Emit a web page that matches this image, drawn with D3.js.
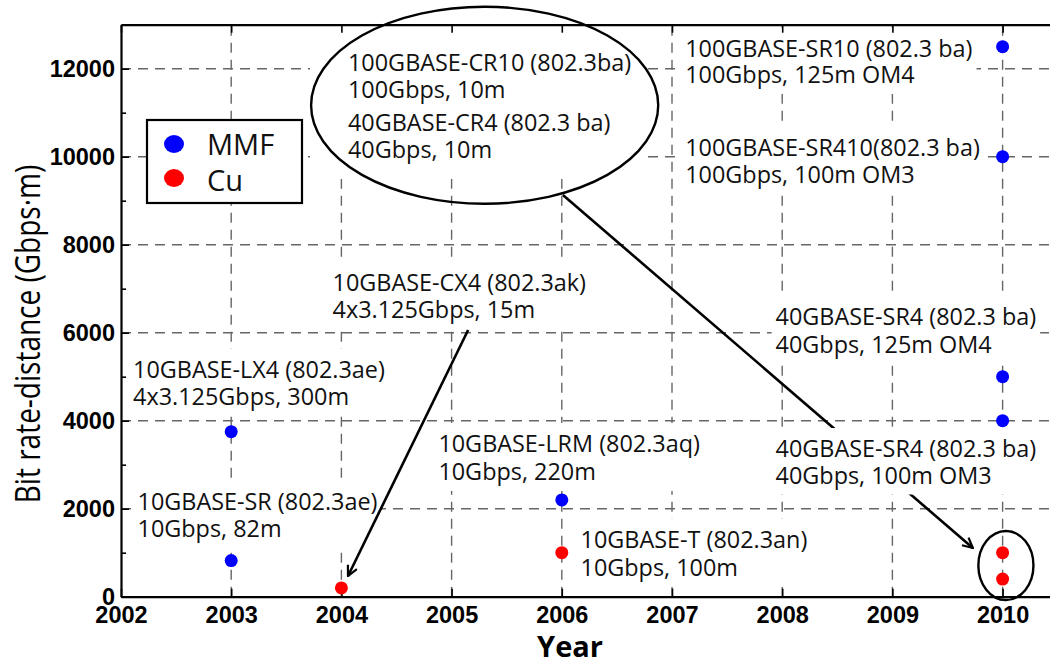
<!DOCTYPE html>
<html>
<head>
<meta charset="utf-8">
<script src="https://cdn.jsdelivr.net/npm/d3@7"></script>
<style>
  body { margin: 0; background: #fff; }
  svg { display: block; }
</style>
</head>
<body>
<svg id="chart" width="1050" height="664"></svg>
<script>
// ---------- data ----------
const yearTicks = [2002, 2003, 2004, 2005, 2006, 2007, 2008, 2009, 2010];
const valueTicks = [0, 2000, 4000, 6000, 8000, 10000, 12000];
const minorValueTicks = [1000, 3000, 5000, 7000, 9000, 11000];

const mmfYears  = [2003, 2003, 2006, 2010, 2010, 2010, 2010];
const mmfValues = [3750, 820, 2200, 12500, 10000, 5000, 4000];
const cuYears   = [2004, 2006, 2010, 2010];
const cuValues  = [200, 1000, 1000, 400];

const seriesNames = ["MMF", "Cu"];
const seriesColors = ["#0000ff", "#ff0000"];

// annotation text blocks: anchor (year, value) of first baseline
const labelLines = [
  ["100GBASE-CR10 (802.3ba)", "100Gbps, 10m", "40GBASE-CR4 (802.3 ba)", "40Gbps, 10m"],
  ["100GBASE-SR10 (802.3 ba)", "100Gbps, 125m OM4"],
  ["100GBASE-SR410(802.3 ba)", "100Gbps, 100m OM3"],
  ["40GBASE-SR4 (802.3 ba)", "40Gbps, 125m OM4"],
  ["40GBASE-SR4 (802.3 ba)", "40Gbps, 100m OM3"],
  ["10GBASE-CX4 (802.3ak)", "4x3.125Gbps, 15m"],
  ["10GBASE-LX4 (802.3ae)", "4x3.125Gbps, 300m"],
  ["10GBASE-SR (802.3ae)", "10Gbps, 82m"],
  ["10GBASE-LRM (802.3aq)", "10Gbps, 220m"],
  ["10GBASE-T (802.3an)", "10Gbps, 100m"]
];
const labelYears  = [2004.06, 2007.12, 2007.12, 2007.94, 2007.94, 2003.92, 2002.11, 2002.15, 2004.88, 2006.17];
const labelValues = [11950, 12270, 10020, 6175, 3175, 6950, 4970, 1970, 3290, 1107];

// arrows in data units (first: CX4 -> 2004 Cu point, second: ellipse -> 2010 Cu points)
const arrowFromYears  = [2005.15, 2006.01];
const arrowFromValues = [6061, 9130];
const arrowToYears    = [2004.06, 2009.73];
const arrowToValues   = [470, 1107];

// ellipses (center year, center value, half-width years, half-height value)
const ellipseYears  = [2005.30, 2010.03];
const ellipseValues = [11170, 709];
const ellipseRYears = [1.575, 0.25];
const ellipseRValues = [2239, 784];

// ---------- layout ----------
const svg = d3.select("#chart");
const x = d3.scaleLinear().domain([2002, 2010.5]).range([121, 1057.7]);
const y = d3.scaleLinear().domain([0, 13000]).range([596.7, 24.7]);
const x0 = x.range()[0], x1 = x.range()[1], y0 = y.range()[0], y1 = y.range()[1];

const textFont = "'Open Sans', 'Noto Sans', sans-serif";

// grid
const grid = svg.append("g").attr("stroke", "#666").attr("stroke-width", 1.4)
  .attr("stroke-dasharray", "10,7");
grid.selectAll("line.v").data(yearTicks.slice(1)).join("line")
  .attr("x1", d => x(d)).attr("x2", d => x(d)).attr("y1", y0).attr("y2", y1);
grid.selectAll("line.h").data(valueTicks.slice(1)).join("line")
  .attr("y1", d => y(d)).attr("y2", d => y(d)).attr("x1", x0).attr("x2", x1);

// arrow head
svg.append("defs").append("marker")
  .attr("id", "head").attr("viewBox", "0 0 12 12")
  .attr("refX", 11).attr("refY", 6)
  .attr("markerWidth", 12).attr("markerHeight", 12)
  .attr("markerUnits", "userSpaceOnUse")
  .attr("orient", "auto")
  .append("path").attr("d", "M1,1 L11,6 L1,11")
  .attr("fill", "none").attr("stroke", "#000").attr("stroke-width", 2.2);

function drawArrow(layer, i) {
  layer.append("line")
    .attr("x1", x(arrowFromYears[i]))
    .attr("y1", y(arrowFromValues[i]))
    .attr("x2", x(arrowToYears[i]))
    .attr("y2", y(arrowToValues[i]))
    .attr("stroke", "#000").attr("stroke-width", 2.6)
    .attr("marker-end", "url(#head)");
}

const arrowUnder = svg.append("g");
const boxLayer = svg.append("g");
const arrowOver = svg.append("g");
const ellLayer = svg.append("g");
const textLayer = svg.append("g");

drawArrow(arrowUnder, 1);  // partly hidden behind the lower 40GBASE-SR4 label
drawArrow(arrowOver, 0);

// annotation labels with white background
const lineGap = [[0, 27, 60, 87], [0, 26], [0, 27], [0, 28], [0, 26.5], [0, 27], [0, 27], [0, 27], [0, 28], [0, 28]];
const boxPad = [[38, 12, 20, 14], [4, 4, 4, 4], [4, 4, 4, 4], [4, 4, 4, 4], [4, 4, 4, 4], [4, 4, 4, 4], [4, 4, 4, 4], [3, 3, 3, 3], [4, 4, 4, 4], [4, 4, 4, 4]];
labelLines.forEach((lines, i) => {
  const rect = boxLayer.append("rect").attr("fill", "#fff");
  const t = textLayer.append("text")
    .attr("font-family", textFont)
    .attr("font-size", 23.4)
    .attr("fill", "#111");
  lines.forEach((s, j) => {
    t.append("tspan")
      .attr("x", x(labelYears[i]))
      .attr("y", y(labelValues[i]) + lineGap[i][j])
      .text(s);
  });
  const bb = t.node().getBBox();
  const p = boxPad[i]; // left, right, top, bottom
  rect.attr("x", bb.x - p[0]).attr("y", bb.y - p[2])
      .attr("width", bb.width + p[0] + p[1]).attr("height", bb.height + p[2] + p[3]);
});

// ellipses
ellLayer.selectAll("ellipse").data(ellipseYears).join("ellipse")
  .attr("cx", (d) => x(d))
  .attr("cy", (d, i) => y(ellipseValues[i]))
  .attr("rx", (d, i) => x(d + ellipseRYears[i]) - x(d))
  .attr("ry", (d, i) => y(0) - y(ellipseRValues[i]))
  .attr("fill", "none")
  .attr("stroke", "#000")
  .attr("stroke-width", 2.4);

// axes
const axisFont = "'Liberation Sans', Arial, sans-serif";
const styleAxis = g => {
  g.select(".domain").attr("stroke", "#000").attr("stroke-width", 2.2);
  g.selectAll(".tick line").attr("stroke", "#000").attr("stroke-width", 1.6);
  g.selectAll(".tick text").attr("font-family", axisFont).attr("font-weight", "bold")
    .attr("font-size", 23.5).attr("fill", "#000");
};

svg.append("g").attr("transform", `translate(0,${y0})`)
  .call(d3.axisBottom(x).tickValues(yearTicks).tickFormat(d3.format("d"))
    .tickSizeInner(-8).tickSizeOuter(0).tickPadding(10))
  .call(styleAxis);

svg.append("g").attr("transform", `translate(0,${y1})`)
  .call(d3.axisTop(x).tickValues(yearTicks).tickFormat("")
    .tickSizeInner(-8).tickSizeOuter(0))
  .call(styleAxis);

svg.append("g").attr("transform", `translate(${x0},0)`)
  .call(d3.axisLeft(y).tickValues(valueTicks).tickFormat(d3.format("d"))
    .tickSizeInner(-8).tickSizeOuter(0).tickPadding(6))
  .call(styleAxis);

svg.append("g").attr("transform", `translate(${x0},0)`)
  .call(d3.axisLeft(y).tickValues(minorValueTicks).tickFormat("")
    .tickSizeInner(-5).tickSizeOuter(0))
  .call(styleAxis)
  .select(".domain").remove();

// points
const pts = svg.append("g");
pts.selectAll("circle.mmf").data(mmfYears).join("circle")
  .attr("class", "mmf")
  .attr("cx", d => x(d)).attr("cy", (d, i) => y(mmfValues[i]))
  .attr("r", 6.5).attr("fill", seriesColors[0]);
pts.selectAll("circle.cu").data(cuYears).join("circle")
  .attr("class", "cu")
  .attr("cx", d => x(d)).attr("cy", (d, i) => y(cuValues[i]))
  .attr("r", 6.5).attr("fill", seriesColors[1]);

// axis titles
svg.append("text")
  .attr("x", 570).attr("y", 657)
  .attr("text-anchor", "middle")
  .attr("font-family", textFont).attr("font-weight", "bold")
  .attr("font-size", 29).attr("fill", "#000")
  .text("Year");

svg.append("text")
  .attr("transform", "translate(40,334) rotate(-90) scale(1,1.25)")
  .attr("text-anchor", "middle")
  .attr("font-family", textFont)
  .attr("font-size", 28).attr("fill", "#000")
  .text("Bit rate-distance (Gbps·m)");

// legend
const leg = svg.append("g");
leg.append("rect").attr("x", 147).attr("y", 120).attr("width", 155).attr("height", 83)
  .attr("fill", "#fff").attr("stroke", "#000").attr("stroke-width", 2.2);
seriesNames.forEach((n, i) => {
  leg.append("ellipse").attr("cx", 174).attr("cy", 144 + i * 34)
    .attr("rx", 10).attr("ry", 9).attr("fill", seriesColors[i]);
  leg.append("text").attr("x", 207).attr("y", 155 + i * 36)
    .attr("font-family", textFont).attr("font-size", 29).attr("fill", "#111")
    .text(n);
});
</script>
</body>
</html>
